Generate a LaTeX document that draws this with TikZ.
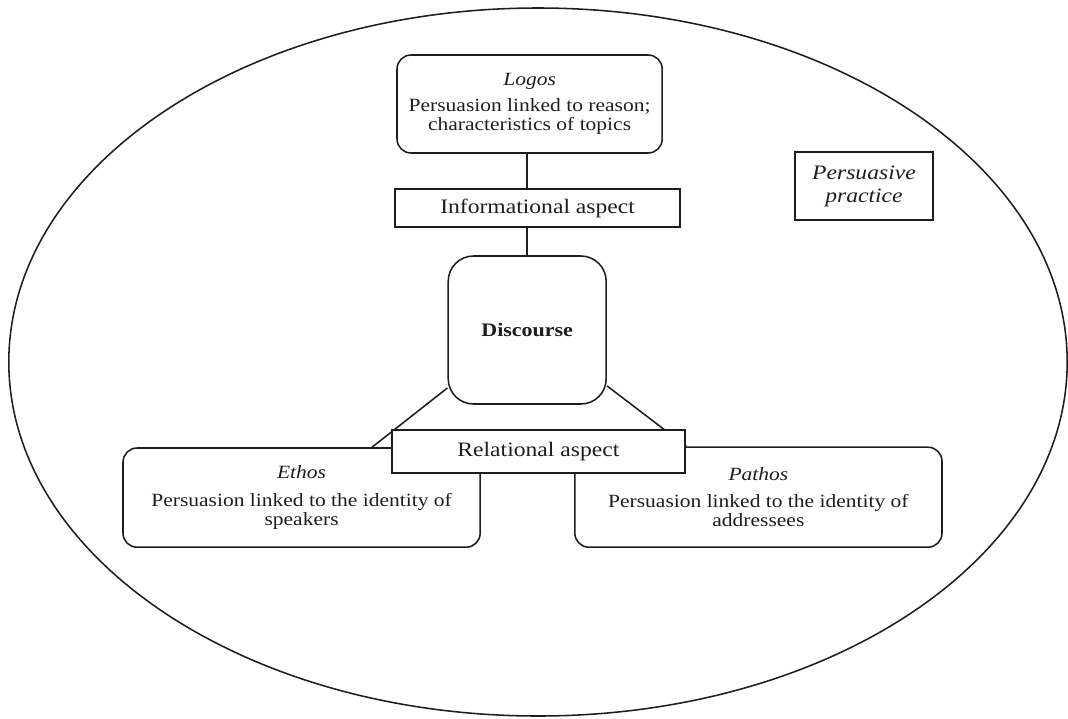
\documentclass[tikz,border=0pt]{standalone}
\usepackage{fontspec}
\setmainfont{Liberation Serif}[FakeStretch=1.15]
\usepackage{tikz}
\usetikzlibrary{positioning, calc}
\definecolor{ink}{HTML}{1E1E1E}

\begin{document}
\begin{tikzpicture}[
  rbox/.style={draw=ink, line width=1.1pt, rounded corners=10pt, fill=white,
               align=center, text=ink, font=\fontsize{13.3}{13.5}\selectfont},
  asp/.style={draw=ink, line width=1.1pt, fill=white, text=ink,
              font=\fontsize{14.6}{16}\selectfont, inner sep=0pt},
  lnk/.style={line width=1.1pt, color=ink}
]
\useasboundingbox (0,0) rectangle (26.7,-17.95);

% Outer ellipse (persuasive practice)
\draw[lnk] (13.45,-9.05) ellipse [x radius=13.23, y radius=8.85];

% Logos
\node[rbox, minimum width=6.63cm, minimum height=2.45cm] (logos) at (13.24,-2.60)
  {\textit{Logos}\\[5pt]Persuasion linked to reason;\\characteristics of topics};

% Discourse
\node[rbox, rounded corners=18pt, minimum width=3.95cm, minimum height=3.7cm,
      font=\fontsize{13.6}{15}\selectfont\bfseries] (disc) at (13.18,-8.25) {Discourse};

% Ethos
\node[rbox, minimum width=8.93cm, minimum height=2.48cm] (ethos) at (7.54,-12.44)
  {\textit{Ethos}\\[6pt]Persuasion linked to the identity of\\speakers};

% Pathos
\node[rbox, minimum width=9.18cm, minimum height=2.5cm] (pathos) at (18.96,-12.43)
  {\textit{Pathos}\\[6pt]Persuasion linked to the identity of\\addressees};

% Persuasive practice label
\node[asp, align=center, minimum width=3.45cm, minimum height=1.7cm,
      font=\fontsize{14.6}{16.5}\selectfont\itshape] (prac) at (21.60,-4.65)
  {Persuasive\\practice};

% Connectors
\draw[lnk] (disc.north) -- (disc.north |- logos.south);
\draw[lnk] (disc.216) -- ($(ethos.north)+(1.76,0)$);
\draw[lnk] (disc.325) -- ($(pathos.north)+(-1.8,0)$);

% Aspect boxes on top of the connectors
\node[asp, minimum width=7.13cm, minimum height=0.95cm] (info) at (13.44,-5.20)
  {Informational aspect};
\node[asp, minimum width=7.33cm, minimum height=1.08cm] (rel) at (13.46,-11.29)
  {Relational aspect};

\end{tikzpicture}
\end{document}
